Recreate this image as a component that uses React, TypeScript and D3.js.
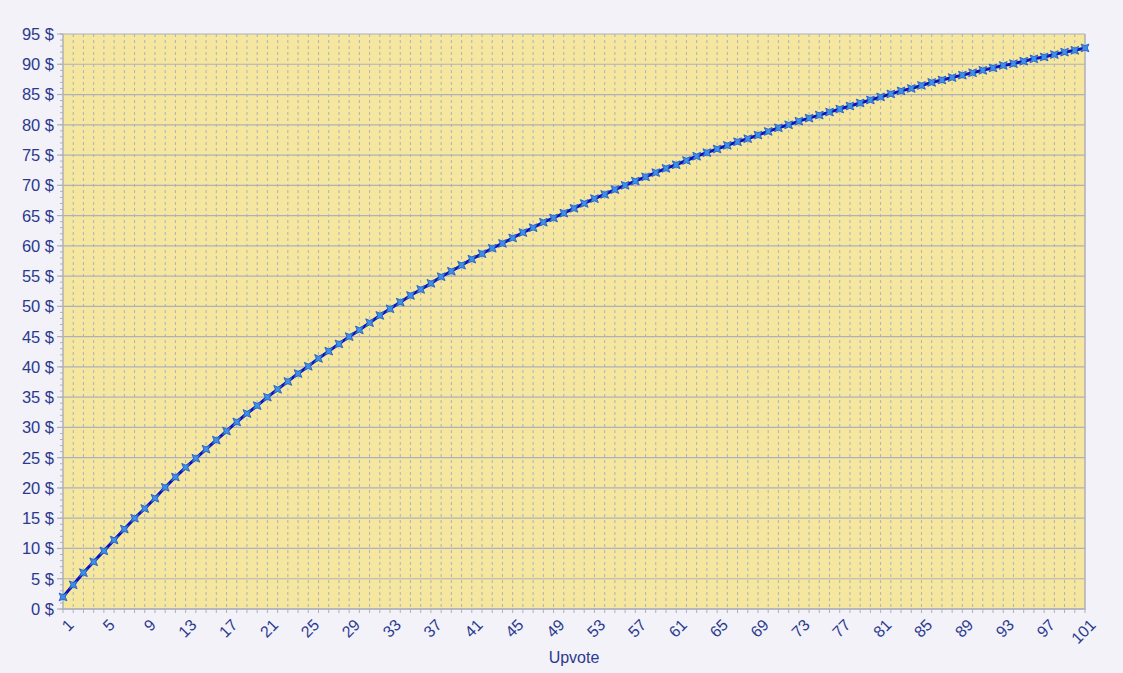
import * as d3 from 'd3';
import React, { useRef, useEffect } from 'react';

// upvote number 1..101
const upvotes: number[] = d3.range(1, 102);

// payout in $
const payout: number[] = [
  2.0, 4.0, 6.0, 7.8, 9.6, 11.4, 13.2, 15.0, 16.6, 18.3,
  20.1, 21.8, 23.4, 24.9, 26.4, 27.9, 29.4, 30.9, 32.3, 33.6,
  35.0, 36.3, 37.6, 38.9, 40.1, 41.4, 42.6, 43.8, 45.0, 46.1,
  47.3, 48.5, 49.6, 50.7, 51.8, 52.8, 53.8, 54.9, 55.8, 56.8,
  57.8, 58.7, 59.6, 60.4, 61.3, 62.2, 63.0, 63.9, 64.6, 65.4,
  66.2, 67.0, 67.8, 68.5, 69.3, 70.0, 70.7, 71.4, 72.1, 72.8,
  73.4, 74.1, 74.8, 75.4, 76.0, 76.6, 77.2, 77.7, 78.3, 78.9,
  79.5, 80.0, 80.6, 81.1, 81.6, 82.1, 82.6, 83.1, 83.6, 84.1,
  84.6, 85.1, 85.6, 86.0, 86.5, 87.0, 87.4, 87.8, 88.2, 88.6,
  89.0, 89.4, 89.8, 90.1, 90.5, 90.9, 91.2, 91.6, 92.0, 92.3,
  92.7,
];

const yTicks: number[] = d3.range(0, 96, 5);
const yMinorTicks: number[] = d3.range(0, 96, 1);
const xLabelTicks: number[] = d3.range(1, 102, 4);

const textColor = "#2b3a8f";
const gridColor = "#b0b0ba";

function App(): any {
  const ref = useRef(null);

  const width = 1123;
  const height = 673;
  const margin = { top: 34, right: 38, bottom: 64, left: 63 };

  useEffect(() => {
    const svg = d3.select(ref.current);
    svg.selectAll("*").remove();

    const xScale = d3.scaleLinear()
      .domain([1, 101])
      .range([margin.left, width - margin.right]);

    const yScale = d3.scaleLinear()
      .domain([0, 95])
      .range([height - margin.bottom, margin.top]);

    const x0 = margin.left, x1 = width - margin.right;
    const y0 = height - margin.bottom, y1 = margin.top;

    svg.append("rect")
      .attr("width", width).attr("height", height)
      .attr("fill", "#f2f2f8");

    // plot background
    svg.append("rect")
      .attr("x", x0).attr("y", y1)
      .attr("width", x1 - x0).attr("height", y0 - y1)
      .attr("fill", "#f5e79f");

    // vertical dashed grid at every category
    svg.append("g")
      .selectAll("line")
      .data(upvotes.slice(1, -1))
      .join("line")
      .attr("x1", (d: number) => xScale(d)).attr("x2", (d: number) => xScale(d))
      .attr("y1", y1).attr("y2", y0)
      .attr("stroke", gridColor)
      .attr("stroke-width", 1)
      .attr("stroke-dasharray", "3,3");

    // horizontal grid
    svg.append("g")
      .selectAll("line")
      .data(yTicks)
      .join("line")
      .attr("x1", x0).attr("x2", x1)
      .attr("y1", (d: number) => yScale(d)).attr("y2", (d: number) => yScale(d))
      .attr("stroke", gridColor)
      .attr("stroke-width", 1.2);

    // plot border (left, right, bottom)
    svg.append("path")
      .attr("d", `M${x0},${y1}V${y0}H${x1}V${y1}`)
      .attr("fill", "none")
      .attr("stroke", gridColor)
      .attr("stroke-width", 1.5);

    // y minor ticks
    svg.append("g")
      .selectAll("line")
      .data(yMinorTicks)
      .join("line")
      .attr("x1", x0 - 3).attr("x2", x0)
      .attr("y1", (d: number) => yScale(d)).attr("y2", (d: number) => yScale(d))
      .attr("stroke", gridColor);

    // y major ticks + labels
    const yAxis = svg.append("g");
    yAxis.selectAll("line")
      .data(yTicks)
      .join("line")
      .attr("x1", x0 - 6).attr("x2", x0)
      .attr("y1", (d: number) => yScale(d)).attr("y2", (d: number) => yScale(d))
      .attr("stroke", gridColor)
      .attr("stroke-width", 1.2);
    yAxis.selectAll("text")
      .data(yTicks)
      .join("text")
      .attr("x", x0 - 9)
      .attr("y", (d: number) => yScale(d))
      .attr("dy", "0.36em")
      .attr("text-anchor", "end")
      .attr("fill", textColor)
      .style("font-family", "'Liberation Sans', Arial, sans-serif")
      .style("font-size", "16.5px")
      .text((d: number) => d + " $");

    // x ticks at every category
    svg.append("g")
      .selectAll("line")
      .data(upvotes)
      .join("line")
      .attr("x1", (d: number) => xScale(d)).attr("x2", (d: number) => xScale(d))
      .attr("y1", y0).attr("y2", y0 + 4)
      .attr("stroke", gridColor);

    // x labels, rotated
    svg.append("g")
      .selectAll("text")
      .data(xLabelTicks)
      .join("text")
      .attr("transform", (d: number) => `translate(${xScale(d) + 4},${y0 + 9}) rotate(-45)`)
      .attr("text-anchor", "end")
      .attr("dy", "0.7em")
      .attr("fill", textColor)
      .style("font-family", "'Liberation Sans', Arial, sans-serif")
      .style("font-size", "16px")
      .text((d: number) => d);

    svg.append("text")
      .attr("x", (x0 + x1) / 2)
      .attr("y", 663)
      .attr("text-anchor", "middle")
      .attr("fill", textColor)
      .style("font-family", "'Liberation Sans', Arial, sans-serif")
      .style("font-size", "16px")
      .text("Upvote");

    // series line
    const line = d3.line<number>()
      .x((_: number, i: number) => xScale(upvotes[i]))
      .y((d: number) => yScale(d));

    svg.append("path")
      .datum(payout)
      .attr("d", line)
      .attr("fill", "none")
      .attr("stroke", "#0a10c0")
      .attr("stroke-width", 3);

    // 4-point star markers
    const star = "M-5.5,0L-1.6,-1.6L0,-5.5L1.6,-1.6L5.5,0L1.6,1.6L0,5.5L-1.6,1.6Z";
    svg.append("g")
      .selectAll("path")
      .data(payout)
      .join("path")
      .attr("transform", (d: number, i: number) =>
        `translate(${xScale(upvotes[i])},${yScale(d)}) rotate(45)`)
      .attr("d", star)
      .attr("fill", "#3f8ee8")
      .attr("stroke", "#1f5cc4")
      .attr("stroke-width", 0.8);
  }, []);

  return (
    <svg
      ref={ref}
      width={width}
      height={height}
      style={{ position: "absolute", left: 0, top: 0, display: "block" }}
    />
  );
}

export default App;
